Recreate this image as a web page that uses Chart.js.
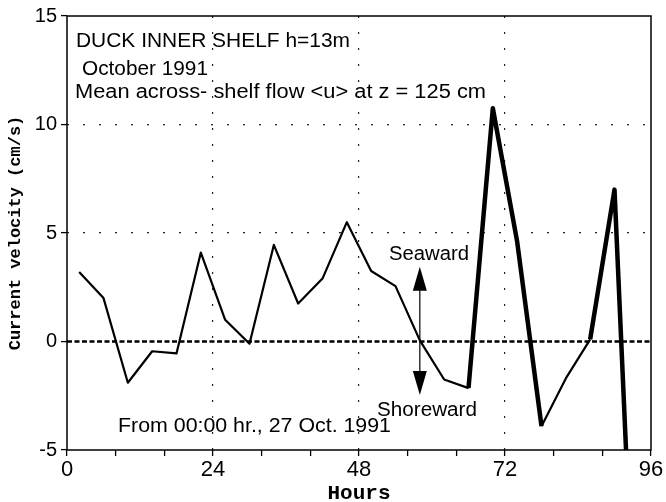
<!DOCTYPE html>
<html>
<head>
<meta charset="utf-8">
<script src="https://cdn.jsdelivr.net/npm/chart.js@4"></script>
<style>
  html, body { margin: 0; padding: 0; background: #fff; }
  canvas { display: block; }
</style>
</head>
<body>
<canvas id="c" width="666" height="502"></canvas>
<script>
// ---- data ----
const hours = [2, 6, 10, 14, 18, 22, 26, 30, 34, 38, 42, 46, 50, 54, 58, 62, 66, 70, 74, 78, 82, 86, 90, 94];
const velocity = [3.2, 2.0, -1.9, -0.45, -0.55, 4.1, 1.0, -0.1, 4.45, 1.75, 2.9, 5.5, 3.25, 2.55, 0.05, -1.75, -2.15, 10.75, 4.6, -3.9, -1.7, 0.1, 7.0, -18.3];
const zeroLineHours = [0, 96];
const zeroLineValues = [0, 0];
const xTickLabels = [0, 24, 48, 72, 96];
const yTickLabels = [-5, 0, 5, 10, 15];

// ---- annotation text ----
const headerLines = ["DUCK INNER SHELF h=13m", "October 1991", "Mean across- shelf flow <u> at z = 125 cm"];
const fromLabel = "From 00:00 hr., 27 Oct. 1991";
const seawardLabel = "Seaward";
const shorewardLabel = "Shoreward";
const arrowHour = 58, arrowTopValue = 3.45, arrowBottomValue = -2.47;

// segments drawn heavy in the original (start hour of segment)
const heavySegmentStarts = [66, 70, 74, 86, 90];

const mainPoints = hours.map((h, i) => ({x: h, y: velocity[i]}));
const zeroPoints = zeroLineHours.map((h, i) => ({x: h, y: zeroLineValues[i]}));

function fitText(ctx, text, x, y, width) {
  const w = ctx.measureText(text).width;
  ctx.save();
  ctx.translate(x, y);
  ctx.scale(width / w, 1);
  ctx.fillText(text, 0, 0);
  ctx.restore();
}

const overlay = {
  id: 'overlay',
  afterDraw(chart) {
    const {ctx, chartArea: a, scales: {x, y}} = chart;
    ctx.save();
    // frame
    ctx.strokeStyle = '#000';
    ctx.lineWidth = 1.5;
    ctx.strokeRect(a.left, a.top, a.right - a.left, a.bottom - a.top);

    // texts
    ctx.fillStyle = '#000';
    ctx.font = '20px "Liberation Sans", Arial, sans-serif';
    ctx.textBaseline = 'alphabetic';
    ctx.textAlign = 'left';
    fitText(ctx, headerLines[0], 76, 47, 274);
    fitText(ctx, headerLines[1], 82, 75, 126);
    fitText(ctx, headerLines[2], 75, 98, 411);
    fitText(ctx, fromLabel, 118, 432, 273);
    fitText(ctx, seawardLabel, 389, 260, 80);
    fitText(ctx, shorewardLabel, 377, 416, 100);

    // double arrow
    const ax = x.getPixelForValue(arrowHour);
    const yt = y.getPixelForValue(arrowTopValue);
    const yb = y.getPixelForValue(arrowBottomValue);
    const hl = 24, hw = 7;
    ctx.lineWidth = 1.2;
    ctx.beginPath();
    ctx.moveTo(ax, yt + hl - 2);
    ctx.lineTo(ax, yb - hl + 2);
    ctx.stroke();
    ctx.beginPath();
    ctx.moveTo(ax, yt);
    ctx.lineTo(ax - hw, yt + hl);
    ctx.lineTo(ax + hw, yt + hl);
    ctx.closePath();
    ctx.fill();
    ctx.beginPath();
    ctx.moveTo(ax, yb);
    ctx.lineTo(ax - hw, yb - hl);
    ctx.lineTo(ax + hw, yb - hl);
    ctx.closePath();
    ctx.fill();
    ctx.restore();
  }
};

new Chart(document.getElementById('c'), {
  type: 'scatter',
  data: {
    datasets: [
      {
        data: mainPoints,
        showLine: true,
        borderColor: '#000',
        borderWidth: 2.2,
        pointRadius: 0,
        fill: false,
        tension: 0,
        clip: 0,
        order: 0,
        borderJoinStyle: 'round',
        segment: {
          borderWidth: ctx => heavySegmentStarts.includes(ctx.p0.parsed.x) ? 4.5 : 2.2
        }
      },
      {
        data: zeroPoints,
        showLine: true,
        borderColor: '#000',
        borderWidth: 2.5,
        borderDash: [5, 2.5],
        pointRadius: 0,
        clip: 0,
        order: 1
      }
    ]
  },
  options: {
    responsive: false,
    animation: false,
    devicePixelRatio: 1,
    layout: { padding: { left: 0, right: 15, top: 16, bottom: 0 } },
    plugins: { legend: { display: false }, tooltip: { enabled: false } },
    scales: {
      x: {
        type: 'linear',
        min: 0, max: 96,
        afterFit: s => { s.height = 52; },
        afterBuildTicks: s => {
          const t = [];
          for (let v = 0; v <= 96; v += 8) t.push({value: v});
          s.ticks = t;
        },
        ticks: {
          autoSkip: false,
          maxRotation: 0,
          padding: 1,
          color: '#000',
          font: { family: '"Liberation Sans", Arial, sans-serif', size: 22 },
          callback: v => xTickLabels.includes(v) ? String(v) : ''
        },
        grid: {
          color: c => (c.tick && c.tick.value % 24 === 0 && c.tick.value > 0 && c.tick.value < 96) ? '#222' : 'rgba(0,0,0,0)',
          lineWidth: 1.2,
          drawTicks: true,
          tickLength: 6,
          tickColor: '#000',
          tickWidth: 1.3,
          tickBorderDash: []
        },
        border: { display: false, dash: [2, 14] },
        title: {
          display: true,
          text: 'Hours',
          color: '#000',
          font: { family: '"Liberation Mono", "Courier New", monospace', size: 21, weight: 'bold', lineHeight: 1 },
          padding: { top: 0, bottom: -2 }
        }
      },
      y: {
        type: 'linear',
        min: -5, max: 15,
        afterFit: s => { s.width = 67; },
        afterBuildTicks: s => { s.ticks = yTickLabels.map(v => ({value: v})); },
        ticks: {
          padding: 4,
          color: '#000',
          font: { family: '"Liberation Sans", Arial, sans-serif', size: 20 },
          callback: v => String(v)
        },
        grid: {
          color: c => (c.tick && (c.tick.value === 5 || c.tick.value === 10)) ? '#222' : 'rgba(0,0,0,0)',
          lineWidth: 1.2,
          drawTicks: true,
          tickLength: 6,
          tickColor: '#000',
          tickWidth: 1.3,
          tickBorderDash: []
        },
        border: { display: false, dash: [2, 14] },
        title: {
          display: true,
          text: 'Current velocity (cm/s)',
          color: '#000',
          font: { family: '"Liberation Mono", "Courier New", monospace', size: 17, weight: 'bold', lineHeight: 1.2 },
          padding: { top: 6, bottom: 0 }
        }
      }
    }
  },
  plugins: [overlay]
});
</script>
</body>
</html>
